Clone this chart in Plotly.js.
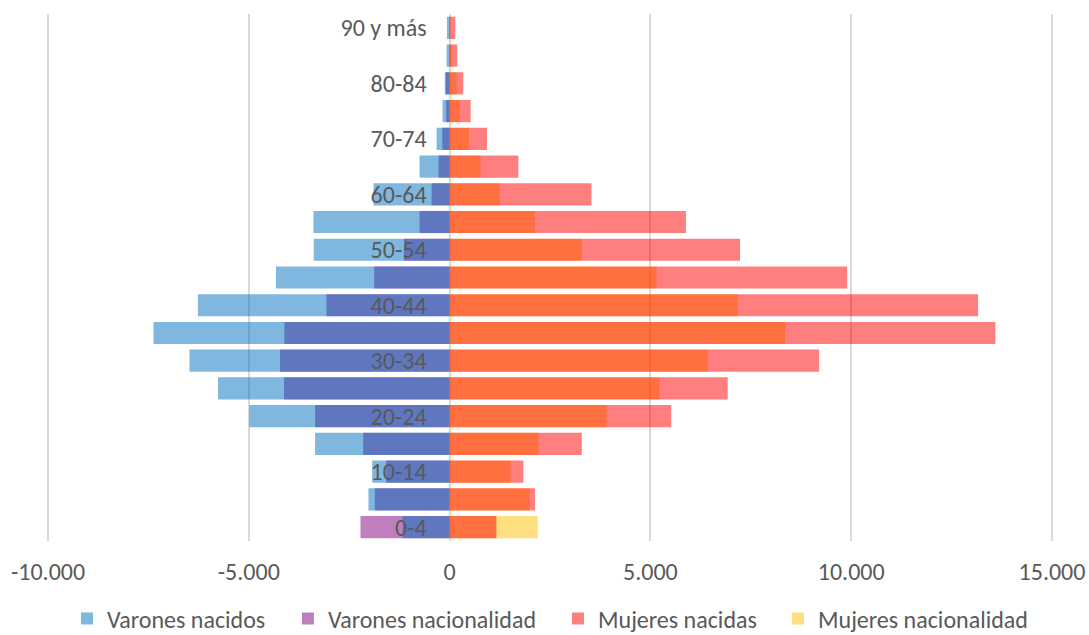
<!DOCTYPE html>
<html>
<head>
<meta charset="utf-8">
<script src="https://cdn.plot.ly/plotly-3.0.1.min.js"></script>
<style>
  html, body { margin: 0; padding: 0; background: #ffffff; }
  #chart { width: 1089px; height: 635px; }
</style>
</head>
<body>
<div id="chart"></div>
<script>
// Age groups, bottom to top
const categories = ['0-4','5-9','10-14','15-19','20-24','25-29','30-34','35-39','40-44','45-49',
                    '50-54','55-59','60-64','65-69','70-74','75-79','80-84','85-89','90 y más'];

// Men are plotted to the left (negative values)
const varonesNacidos = [-1172, -2020, -1928, -3350, -4988, -5768, -6476, -7373, -6268, -4322,
                        -3383, -3391, -1895, -748, -324, -175, -120, -75, -67];
const varonesNacionalidad = [-2219, -1862, -1579, -2153, -3350, -4123, -4222, -4115, -3067, -1878,
                             -1139, -748, -449, -274, -182, -85, -95, -15, -10];
const mujeresNacidas = [1165, 2128, 1838, 3292, 5519, 6925, 9202, 13591, 13160, 9900,
                        7232, 5885, 3533, 1712, 931, 524, 341, 192, 142];
const mujeresNacionalidad = [2195, 1995, 1521, 2212, 3908, 5220, 6426, 8354, 7175, 5155,
                             3292, 2120, 1247, 773, 482, 249, 175, 67, 15];

const seriesNames = ['Varones nacidos', 'Varones nacionalidad', 'Mujeres nacidas', 'Mujeres nacionalidad'];

// Axis ticks
const xTickVals = [-10000, -5000, 0, 5000, 10000, 15000];
const xTickText = ['-10.000', '-5.000', '0', '5.000', '10.000', '15.000'];
const yTickLabels = categories.filter((c, i) => i % 2 === 0);

const FONT = 'Calibri, Carlito, Lato, sans-serif';
const TXT = '#595959';
const FS = 24;

// small padding so the outer gridlines (-10.000 and 15.000) are drawn
const X_MIN = -10000, X_MAX = 15000, X_PAD = 74.7;

function barTrace(x, name, color, legendId) {
  return {
    type: 'bar', orientation: 'h',
    y: categories, x: x, name: name,
    marker: { color: color, line: { width: 0 } },
    width: 0.8,
    legend: legendId,
    hoverinfo: 'name+x+y'
  };
}

const data = [
  barTrace(varonesNacionalidad, seriesNames[1], 'rgba(128,0,128,0.5)', 'legend2'),
  barTrace(varonesNacidos, seriesNames[0], 'rgba(0,112,192,0.5)', 'legend'),
  barTrace(mujeresNacionalidad, seriesNames[3], 'rgba(255,192,0,0.5)', 'legend4'),
  barTrace(mujeresNacidas, seriesNames[2], 'rgba(255,0,0,0.5)', 'legend3')
];

function legendAt(x) {
  return {
    orientation: 'h', x: x, xanchor: 'left', y: -0.1480, yanchor: 'middle',
    font: { family: FONT, size: FS, color: TXT },
    bgcolor: 'rgba(0,0,0,0)', itemwidth: 30
  };
}

const zeroFrac = (0 - (X_MIN - X_PAD)) / ((X_MAX + X_PAD) - (X_MIN - X_PAD));

const layout = {
  width: 1089, height: 635,
  margin: { l: 45, r: 34, t: 14, b: 94, autoexpand: false },
  paper_bgcolor: '#ffffff', plot_bgcolor: '#ffffff',
  barmode: 'overlay',
  font: { family: FONT, color: TXT, size: FS },
  showlegend: true,
  legend: legendAt(0.02178),
  legend2: legendAt(0.24055),
  legend3: legendAt(0.50792),
  legend4: legendAt(0.72574),
  xaxis: {
    range: [X_MIN - X_PAD, X_MAX + X_PAD],
    tickvals: xTickVals, ticktext: xTickText,
    showgrid: true, gridcolor: '#D9D9D9', gridwidth: 2,
    zeroline: true, zerolinecolor: '#D9D9D9', zerolinewidth: 2,
    showline: false, ticks: '',
    tickfont: { family: FONT, size: FS, color: TXT },
    ticklabelstandoff: 14,
    fixedrange: true
  },
  yaxis: {
    type: 'category',
    anchor: 'free', position: zeroFrac,
    tickvals: yTickLabels, ticktext: yTickLabels,
    showgrid: false, zeroline: false, showline: false, ticks: '',
    tickfont: { family: FONT, size: FS, color: TXT },
    ticklabelstandoff: 23,
    fixedrange: true
  }
};

Plotly.newPlot('chart', data, layout, { displayModeBar: false, staticPlot: true });
</script>
</body>
</html>
